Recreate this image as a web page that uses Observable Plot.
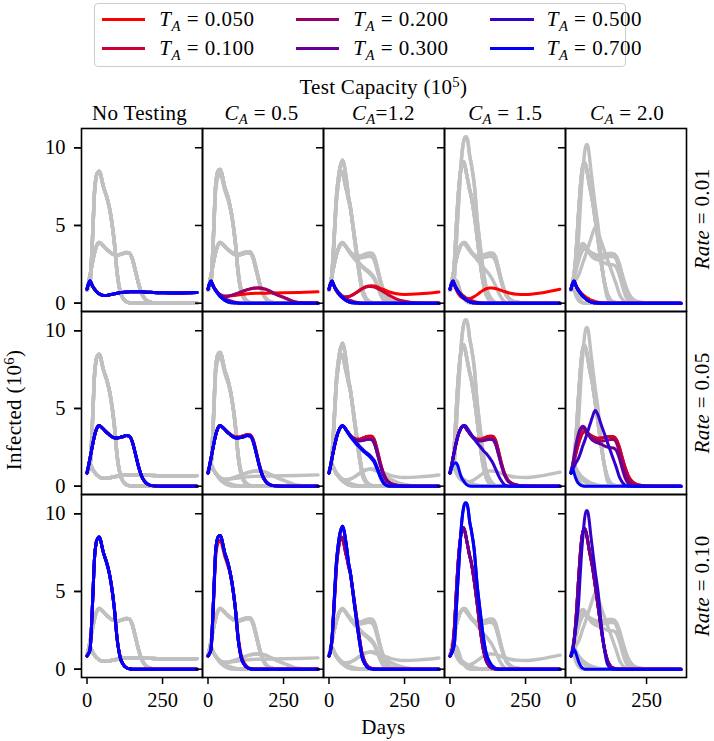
<!DOCTYPE html>
<html><head><meta charset="utf-8">
<script src="https://cdn.jsdelivr.net/npm/d3@7"></script>
<script src="https://cdn.jsdelivr.net/npm/@observablehq/plot@0.6"></script>
<style>
html,body{margin:0;padding:0;background:#fff;}
#wrap{position:relative;width:714px;height:741px;overflow:hidden;font-family:'Liberation Serif',serif;color:#000;}
#wrap svg{position:absolute;left:0;top:0;}
.lbl{position:absolute;white-space:nowrap;font-size:21px;line-height:21px;height:21px;transform:translate(-50%,-50%);letter-spacing:0.3px;}
.rot{transform:translate(-50%,-50%) rotate(-90deg);}
.sub{font-size:70%;position:relative;top:0.32em;font-style:italic;}
.sup{font-size:70%;position:relative;top:-0.45em;}
.leg{position:absolute;left:94.3px;top:3.3px;width:532px;height:64px;border:1px solid #cccccc;border-radius:4px;box-sizing:border-box;background:#fff;}
.lline{position:absolute;height:3px;width:43.5px;}
.ltxt{position:absolute;white-space:nowrap;font-size:21px;line-height:21px;height:21px;transform:translateY(-50%);letter-spacing:0.5px;}
</style></head><body><div id="wrap"></div>
<script>
// ---------- data ----------
const days = [0,5,10,15,20,25,30,35,40,45,50,55,60,65,70,80,90,100,110,120,130,140,150,160,170,180,190,200,220,250,300,364];
const taValues = [0.05,0.1,0.2,0.3,0.5,0.7];
const taColors = ["#ff0000","#cc0033","#990066","#660099","#3300cc","#0000ff"];
const capLabels = ["No Testing","<i>C</i><span class='sub'>A</span> = 0.5","<i>C</i><span class='sub'>A</span>=1.2","<i>C</i><span class='sub'>A</span> = 1.5","<i>C</i><span class='sub'>A</span> = 2.0"];
const rateLabels = ["0.01","0.05","0.10"];
const yTicks = [0,5,10];
const xTicks = [0,250];

// Rate = 0.01 curves
const flatNoTest = [0.9,1.25,1.45,1.25,1.05, 0.9,0.78,0.68,0.6,0.55, 0.52,0.5,0.5,0.5,0.52, 0.56,0.6,0.64,0.68,0.7, 0.72,0.73,0.74,0.74,0.74, 0.73,0.72,0.71,0.69,0.67, 0.65,0.68];
const lowFast = [0.9,1.25,1.42,1.2,0.98, 0.82,0.68,0.55,0.43,0.34, 0.26,0.19,0.13,0.09,0.06, 0.02,0.01,0,0,0, 0,0,0,0,0, 0,0,0,0,0, 0,0];
const lowMid = [0.9,1.25,1.42,1.22,1.02, 0.87,0.74,0.63,0.54,0.46, 0.39,0.33,0.27,0.22,0.18, 0.11,0.06,0.03,0.01,0, 0,0,0,0,0, 0,0,0,0,0, 0,0];
const c1Low05 = [0.9,1.25,1.42,1.22,1.0, 0.85,0.72,0.62,0.55,0.5, 0.47,0.45,0.45,0.45,0.46, 0.48,0.5,0.53,0.56,0.58, 0.6,0.62,0.63,0.64,0.64, 0.64,0.64,0.65,0.66,0.67, 0.69,0.73];
const c1LowHump = [0.9,1.25,1.42,1.22,1.0, 0.85,0.72,0.62,0.54,0.48, 0.45,0.44,0.44,0.45,0.47, 0.52,0.58,0.65,0.72,0.8, 0.87,0.92,0.96,0.98,0.98, 0.95,0.9,0.82,0.62,0.38, 0.04,0];
const c2Low05 = [0.9,1.25,1.42,1.2,0.95, 0.78,0.64,0.53,0.46,0.42, 0.4,0.4,0.41,0.43,0.46, 0.55,0.68,0.82,0.95,1.05, 1.1,1.12,1.1,1.04,0.96, 0.88,0.8,0.72,0.62,0.56, 0.6,0.72];
const c2LowHump = [0.9,1.25,1.42,1.2,0.95, 0.78,0.64,0.53,0.46,0.42, 0.4,0.4,0.41,0.43,0.46, 0.55,0.67,0.8,0.93,1.02, 1.08,1.08,1.04,0.96,0.86, 0.74,0.62,0.5,0.3,0.12, 0.01,0];
const c3Low05 = [0.9,1.25,1.42,1.15,0.88, 0.68,0.53,0.42,0.35,0.3, 0.28,0.27,0.28,0.3,0.33, 0.42,0.55,0.7,0.83,0.93, 0.98,0.98,0.95,0.89,0.82, 0.75,0.69,0.64,0.58,0.56, 0.66,0.9];

// Rate = 0.05 curves
const dhNoTest = [0.85,1.3,1.8,2.3,2.8, 3.25,3.6,3.82,3.9,3.85, 3.76,3.66,3.56,3.46,3.38, 3.22,3.12,3.1,3.14,3.2, 3.26,3.22,2.85,2.1,1.3, 0.68,0.32,0.14,0.02,0, 0,0];
const dhHigh = [0.85,1.3,1.8,2.3,2.8, 3.25,3.6,3.82,3.9,3.85, 3.76,3.66,3.56,3.47,3.4, 3.26,3.17,3.16,3.2,3.27, 3.32,3.3,2.95,2.2,1.38, 0.74,0.36,0.16,0.03,0, 0,0];
const dhA = [0.85,1.3,1.8,2.3,2.75, 3.15,3.45,3.68,3.82,3.86, 3.8,3.68,3.55,3.42,3.3, 3.12,3.02,3.02,3.08,3.16, 3.22,3.22,3.0,2.3,1.5, 0.85,0.45,0.24,0.08,0.01, 0,0];
const dhB = [0.85,1.3,1.8,2.3,2.75, 3.15,3.45,3.68,3.82,3.86, 3.8,3.66,3.52,3.38,3.25, 3.05,2.95,2.92,2.94,2.98, 3.02,3.0,2.75,2.1,1.35, 0.75,0.38,0.2,0.06,0, 0,0];
const slopeA = [0.85,1.3,1.8,2.3,2.75, 3.15,3.45,3.7,3.85,3.9, 3.82,3.68,3.52,3.38,3.25, 3.02,2.8,2.6,2.4,2.22, 2.08,1.9,1.65,1.2,0.7, 0.3,0.08,0.01,0,0, 0,0];
const slopeB = [0.85,1.3,1.8,2.3,2.75, 3.15,3.45,3.7,3.85,3.9, 3.82,3.67,3.5,3.35,3.2, 2.95,2.72,2.52,2.32,2.14, 1.98,1.78,1.52,1.05,0.55, 0.2,0.05,0,0,0, 0,0];
const slopeC = [0.85,1.3,1.8,2.3,2.75, 3.15,3.45,3.7,3.85,3.9, 3.9,3.8,3.65,3.5,3.35, 3.05,2.78,2.55,2.3,2.1, 1.85,1.55,1.15,0.7,0.35, 0.1,0.02,0,0,0, 0,0];
const bumpSmall = [0.85,1.15,1.38,1.48,1.5, 1.35,1.05,0.72,0.48,0.34, 0.2,0.1,0.04,0.01,0, 0,0,0,0,0, 0,0,0,0,0, 0,0,0,0,0, 0,0];
const c4Mid05 = [0.85,1.2,1.6,2.0,2.4, 2.75,3.05,3.3,3.45,3.5, 3.48,3.42,3.35,3.28,3.22, 3.12,3.08,3.1,3.14,3.18, 3.2,3.18,3.0,2.5,1.8, 1.15,0.65,0.35,0.1,0.02, 0,0];
const c4Mid20 = [0.85,1.3,1.8,2.3,2.8, 3.2,3.5,3.65,3.7,3.65, 3.52,3.4,3.28,3.17,3.08, 2.97,2.92,2.9,2.92,2.96, 3.0,3.0,2.8,2.2,1.5, 0.85,0.4,0.18,0.04,0, 0,0];
const c4Mid30 = [0.85,1.35,1.9,2.5,3.0, 3.4,3.65,3.8,3.85,3.78, 3.6,3.42,3.25,3.1,2.98, 2.85,2.78,2.7,2.6,2.52, 2.48,2.46,2.3,1.8,1.1, 0.5,0.15,0.04,0,0, 0,0];
const c4Late50 = [0.85,1.05,1.25,1.45,1.62, 1.8,2.05,2.35,2.65,2.9, 3.2,3.5,3.8,4.1,4.4, 4.87,4.55,3.95,3.4,2.85, 2.3,1.75,1.2,0.6,0.25, 0.06,0.01,0,0,0, 0,0];
const tinyA = [0.85,1.15,0.85,0.55,0.32, 0.18,0.09,0.04,0.01,0, 0,0,0,0,0, 0,0,0,0,0, 0,0,0,0,0, 0,0,0,0,0, 0,0];

// Rate = 0.10 curves
const spNoTest = [0.85,1.0,1.25,2.8,5.0, 7.2,8.1,8.4,8.5,8.3, 7.85,7.45,7.15,6.85,6.5, 5.5,4.0,1.9,0.75,0.3, 0.1,0.03,0,0,0, 0,0,0,0,0, 0,0];
const spC1 = [0.85,1.0,1.3,3.0,5.3, 7.5,8.3,8.55,8.6,8.4, 7.95,7.5,7.2,6.9,6.5, 5.5,4.0,1.9,0.75,0.3, 0.1,0.03,0,0,0, 0,0,0,0,0, 0,0];
const spC1red = [0.85,1.0,1.25,2.8,5.0, 7.1,7.9,8.2,8.3,8.1, 7.7,7.3,7.0,6.7,6.4, 5.4,4.0,2.1,0.9,0.4, 0.15,0.05,0.01,0,0, 0,0,0,0,0, 0,0];
const spC2 = [0.85,1.2,2.0,3.6,5.4, 7.0,7.9,8.6,9.0,9.2, 8.9,8.3,7.6,6.8,6.3, 4.8,3.3,1.9,0.75,0.3, 0.08,0.02,0,0,0, 0,0,0,0,0, 0,0];
const spC2red = [0.85,1.15,1.9,3.4,5.1, 6.7,7.6,8.2,8.5,8.4, 8.0,7.5,7.1,6.6,6.2, 4.9,3.5,2.1,0.95,0.42, 0.15,0.05,0.01,0,0, 0,0,0,0,0, 0,0];
const spC3 = [0.85,1.0,1.25,1.7,3.5, 5.3,6.9,8.5,9.7,10.4, 10.7,10.7,10.3,9.5,9.0, 7.7,5.4,3.7,2.1,1.0, 0.5,0.2,0.05,0,0, 0,0,0,0,0, 0,0];
const spC3red = [0.85,1.1,1.6,2.8,4.6, 6.3,7.6,8.5,9.0,9.1, 8.8,8.3,7.8,7.3,6.9, 5.7,4.2,2.6,1.3,0.55, 0.2,0.06,0.01,0,0, 0,0,0,0,0, 0,0];
const spC4 = [0.85,1.2,1.8,2.5,3.2, 4.2,5.9,7.5,8.65,9.7, 10.2,10.2,9.6,8.7,7.9, 6.3,4.9,2.9,1.35,0.35, 0.08,0.01,0,0,0, 0,0,0,0,0, 0,0];
const spC4red = [0.85,1.2,1.8,2.8,4.2, 5.8,7.2,8.3,8.9,9.05, 8.8,8.3,7.7,7.2,6.7, 5.4,4.0,2.6,1.4,0.6, 0.22,0.07,0.02,0,0, 0,0,0,0,0, 0,0];
const tinyB = [0.85,1.1,1.28,1.1,0.8, 0.5,0.28,0.12,0.04,0.01, 0,0,0,0,0, 0,0,0,0,0, 0,0,0,0,0, 0,0,0,0,0, 0,0];

// which curve each (capacity column, rate row, T_A) panel line uses
const plan = [
  [[flatNoTest,flatNoTest,flatNoTest,flatNoTest,flatNoTest,flatNoTest],
   [dhNoTest,dhNoTest,dhNoTest,dhNoTest,dhNoTest,dhNoTest],
   [spNoTest,spNoTest,spNoTest,spNoTest,spNoTest,spNoTest]],
  [[c1Low05,c1LowHump,c1LowHump,lowMid,lowFast,lowFast],
   [dhHigh,dhHigh,dhNoTest,dhNoTest,dhNoTest,dhNoTest],
   [spC1red,spC1,spC1,spC1,spC1,spC1]],
  [[c2Low05,c2LowHump,lowMid,lowFast,lowFast,lowFast],
   [dhA,dhA,dhB,dhB,slopeA,slopeB],
   [spC2red,spC2red,spC2red,spC2,spC2,spC2]],
  [[c3Low05,lowMid,lowFast,lowFast,lowFast,lowFast],
   [dhA,dhA,dhB,dhB,slopeC,bumpSmall],
   [spC3red,spC3red,spC3red,spC3red,spC3,spC3]],
  [[lowMid,lowFast,lowFast,lowFast,lowFast,lowFast],
   [c4Mid05,c4Mid05,c4Mid20,c4Mid30,c4Late50,tinyA],
   [spC4red,spC4red,spC4red,spC4red,spC4,tinyB]]
];

// ---------- build tables ----------
const colored = [];
plan.forEach((colPlan, ci) => colPlan.forEach((rowPlan, ri) => rowPlan.forEach((vals, ti) => {
  vals.forEach((v, k) => colored.push({col: ci, row: ri, ta: ti, key: ci + "-" + ri + "-" + ti, day: days[k], value: v}));
})));
const gray = [];
for (let panel = 0; panel < rateLabels.length; panel++) {
  colored.forEach(d => { if (d.row !== panel) gray.push({...d, panel, key: d.key + "@" + panel}); });
}

const chart = Plot.plot({
  width: 714, height: 741,
  marginLeft: 78.7, marginRight: 26, marginTop: 127.3, marginBottom: 62.7,
  style: {fontFamily: "'Liberation Serif', serif", fontSize: "20.5px", background: "transparent", color: "black"},
  fx: {domain: d3.range(capLabels.length), padding: 0, axis: null},
  fy: {domain: d3.range(rateLabels.length), padding: 0, axis: null},
  x: {domain: [-18.2, 382.2]},
  y: {domain: [-0.535, 11.24]},
  color: {type: "ordinal", domain: d3.range(taValues.length), range: taColors},
  marks: [
    Plot.line(gray, {x: "day", y: "value", z: "key", fx: "col", fy: "panel", stroke: "#c0c0c0", strokeWidth: 3.4, curve: "monotone-x"}),
    Plot.line(colored, {x: "day", y: "value", z: "key", fx: "col", fy: "row", stroke: "ta", strokeWidth: 3, curve: "monotone-x"}),
    Plot.frame({stroke: "black", strokeWidth: 1.6}),
    Plot.axisY({ticks: yTicks, tickSize: 7, tickPadding: 9, label: null, strokeWidth: 1.5}),
    Plot.axisY({ticks: yTicks, tickSize: 7, tickFormat: () => "", label: null, strokeWidth: 1.5, facetAnchor: null}),
    Plot.axisX({ticks: xTicks, tickSize: 7, tickPadding: 8, label: null, strokeWidth: 1.5})
  ]
});

const wrap = document.getElementById("wrap");
wrap.appendChild(chart);

// ---------- text overlay ----------
function addLabel(html, x, y, rot) {
  const el = document.createElement("div");
  el.className = "lbl" + (rot ? " rot" : "");
  el.style.left = x + "px"; el.style.top = y + "px";
  el.innerHTML = html;
  wrap.appendChild(el);
}
const left = 78.7, colW = (714 - 78.7 - 26) / capLabels.length;
const top0 = 127.3, rowH = (741 - 127.3 - 62.7) / rateLabels.length;
addLabel("Test Capacity (10<span class='sup'>5</span>)", left + colW * capLabels.length / 2, 86.8);
capLabels.forEach((t, i) => addLabel(t, left + colW * (i + 0.5), 112.5));
rateLabels.forEach((r, i) => addLabel("<i>Rate</i> = " + r, 702.2, top0 + rowH * (i + 0.5), true));
addLabel("Infected (10<span class='sup'>6</span>)", 14.2, 410, true);
addLabel("Days", 383.4, 727.2);

// legend
const leg = document.createElement("div");
leg.className = "leg";
wrap.appendChild(leg);
const legLineX = [101.7, 295.7, 490];
const legTextX = [159.3, 353.3, 546.7];
const legRowY = [19.2, 48.4];
taValues.forEach((v, i) => {
  const c = Math.floor(i / 2), r = i % 2;
  const ln = document.createElement("div");
  ln.className = "lline";
  ln.style.left = legLineX[c] + "px"; ln.style.top = (legRowY[r] - 1.5) + "px";
  ln.style.background = taColors[i];
  wrap.appendChild(ln);
  const tx = document.createElement("div");
  tx.className = "ltxt";
  tx.style.left = legTextX[c] + "px"; tx.style.top = legRowY[r] + "px";
  tx.innerHTML = "<i>T</i><span class='sub'>A</span> = " + v.toFixed(3);
  wrap.appendChild(tx);
});
</script></body></html>
